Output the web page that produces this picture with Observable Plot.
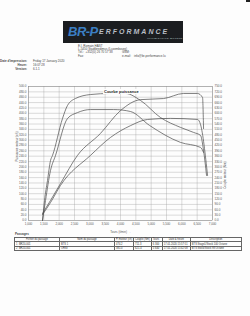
<!DOCTYPE html>
<html><head><meta charset="utf-8">
<script src="https://cdn.jsdelivr.net/npm/d3@7"></script>
<script src="https://cdn.jsdelivr.net/npm/@observablehq/plot@0.6"></script>
<style>
body{margin:0;background:#fff;font-family:"Liberation Sans",Arial,sans-serif;}
#page{position:relative;width:250px;height:316px;overflow:hidden;background:#fdfdfd;}
.abs{position:absolute;white-space:nowrap;color:#444;}
.t{font-size:3px;line-height:3.6px;}
#logo{position:absolute;left:63px;top:21px;width:120px;height:22px;background:#1b1d20;}
table{border-collapse:collapse;font-size:2.6px;color:#333;}
td,th{border:0.5px solid #666;padding:0 1px;height:3.4px;font-weight:normal;text-align:left;}
</style></head>
<body><div id="page">
<div class="abs" style="left:246px;top:0;width:4px;height:2px;background:#222"></div>
<div id="logo">
 <span class="abs" style="left:5px;top:3px;font:italic bold 13px 'Liberation Sans';color:#3b7fc4;letter-spacing:-0.5px">BR-P</span>
 <span class="abs" style="left:36px;top:7px;font:italic bold 7px 'Liberation Sans';color:#b9bec6;letter-spacing:2px">ERFORMANCE</span>
 <span class="abs" style="left:84px;top:15.5px;font:bold 2.4px 'Liberation Sans';color:#9aa;letter-spacing:0.4px">OPTIMISATION MOTEUR</span>
</div>
<div class="abs t" style="left:78px;top:45px">E.I. Romain HAST</div>
<div class="abs t" style="left:78px;top:48.2px">L-5450 Stadtbredimus (Luxembourg)</div>
<div class="abs t" style="left:78px;top:51.4px">Tél.:&nbsp;&nbsp;+352(0) 26 70 57 38</div>
<div class="abs t" style="left:122px;top:51.4px">GSM:</div>
<div class="abs t" style="left:78px;top:54.6px">Fax:</div>
<div class="abs t" style="left:122px;top:54.6px">e-mail:</div>
<div class="abs t" style="left:134px;top:54.6px">info@br-performance.lu</div>
<div class="abs t" style="right:223px;top:60px;font-weight:bold">Date d'impression:</div>
<div class="abs t" style="left:33px;top:60px">Friday 17 January 2020</div>
<div class="abs t" style="right:223px;top:64px;font-weight:bold">Heure:</div>
<div class="abs t" style="left:33px;top:64px">16:07:28</div>
<div class="abs t" style="right:223px;top:68px;font-weight:bold">Version:</div>
<div class="abs t" style="left:33px;top:68px">6.1.1</div>
<div id="chart" class="abs" style="left:0;top:80px"></div>
<div class="abs" style="left:103px;top:88.5px;font:bold 4px 'Liberation Sans';color:#222;background:#fdfdfd;padding:0 1px">Courbe puissance</div>
<div class="abs t" style="left:15px;top:233px;font-weight:bold">Passages</div>
<div class="abs" style="left:14px;top:237px">
<table>
<tr><th style="width:42px;text-align:center">Fichier du passage</th><th style="width:52px;text-align:center">Nom du passage</th><th style="width:13px">P. moteur (ch)</th><th style="width:11px">Couple (Nm)</th><th style="width:8px">Tours</th><th style="width:25px;text-align:center">Date &amp; heure</th><th style="width:48px;text-align:center">Description</th></tr>
<tr><td>1&nbsp;&nbsp;BR20-001</td><td>BTS 1</td><td>474.2</td><td>711.3</td><td>6 300</td><td>17.01.2020 15:57:51</td><td>BTS Stage1/Stock 100 Octane</td></tr>
<tr><td>2&nbsp;&nbsp;BR20-001</td><td>ORIG</td><td>381.0</td><td>621.4</td><td>5 640</td><td>17.01.2020 15:42:08</td><td>BTS Stock/Stock 98 Octane</td></tr>
</table></div>
</div>
<script>
// Tuned power (ch)
const rpmPowerTuned = [1457,1718,2044,2598,3348,3999,4653,5403,6056,6512,6675,6708];
const chPowerTuned  = [26,75,138,243,325,410,451,455,474,474,459,343];
// Stock power (ch)
const rpmPowerStock = [1457,1718,2044,3022,3675,4327,4882,5632,6512,6610,6839];
const chPowerStock  = [22,67,131,243,310,354,377,381,377,358,168];
// Tuned torque (Nm)
const rpmTorqueTuned = [1457,1522,1620,1718,1783,2109,2272,2533,3022,3675,4164,4653,5306,5958,6382,6610,6708,6806];
const nmTorqueTuned  = [0,112,224,336,364,571,644,683,705,711,711,672,576,521,493,476,392,252];
// Stock torque (Nm)
const rpmTorqueStock = [1457,1555,1718,1881,2272,2598,3022,3773,4327,4948,5958,6610,6708];
const nmTorqueStock  = [0,112,280,364,571,604,621,621,610,532,437,409,381];
const xTicks = d3.range(1000, 7001, 500);
const yTicksLeft = d3.range(0, 501, 20);   // ch
const nmPerCh = 750 / 500;                  // right axis scale factor

const zip = (xs, ys, k) => xs.map((x, i) => ({rpm: x, v: ys[i] * k}));
const lineStyle = {x: "rpm", y: "v", stroke: "#4a4a4a", strokeWidth: 0.7, curve: "monotone-x"};

const chart = Plot.plot({
  width: 250, height: 155,
  marginLeft: 28, marginRight: 38, marginTop: 6, marginBottom: 15,
  style: {fontSize: "3px", fontFamily: "Liberation Sans, Arial, sans-serif", color: "#555", background: "transparent"},
  x: {domain: [1000, 7000]},
  y: {domain: [0, 500]},
  marks: [
    Plot.gridX(xTicks, {stroke: "#9a9a9a", strokeOpacity: 0.7, strokeWidth: 0.5}),
    Plot.gridY(yTicksLeft, {stroke: "#9a9a9a", strokeOpacity: 0.7, strokeWidth: 0.5}),
    Plot.frame({stroke: "#888", strokeWidth: 0.5}),
    Plot.axisX(xTicks, {tickSize: 0, tickPadding: 2, tickFormat: d => d, label: "Tours (t/min)", labelAnchor: "center", labelOffset: 12, fontSize: 3}),
    Plot.axisY(yTicksLeft, {anchor: "left", tickSize: 0, tickPadding: 2, tickFormat: d => d.toFixed(1), label: null}),
    Plot.axisY(yTicksLeft, {anchor: "right", tickSize: 0, tickPadding: 2, tickFormat: d => (d * nmPerCh).toFixed(1), label: null}),
    Plot.text(["Puissance moteur (ch)"], {frameAnchor: "left", dx: -11, dy: 8, rotate: -90, fontSize: 3}),
    Plot.text(["Couple moteur (Nm)"], {frameAnchor: "right", dx: 13, dy: 8, rotate: -90, fontSize: 3}),
    Plot.line(zip(rpmTorqueTuned, nmTorqueTuned, 1 / nmPerCh), lineStyle),
    Plot.line(zip(rpmTorqueStock, nmTorqueStock, 1 / nmPerCh), lineStyle),
    Plot.line(zip(rpmPowerTuned, chPowerTuned, 1), lineStyle),
    Plot.line(zip(rpmPowerStock, chPowerStock, 1), lineStyle)
  ]
});
document.getElementById("chart").appendChild(chart);
</script>
</body></html>
